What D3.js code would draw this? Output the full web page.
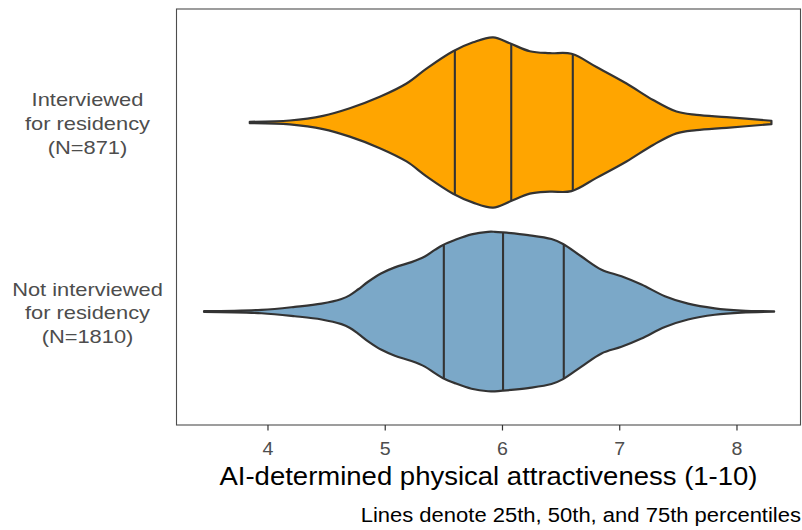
<!DOCTYPE html>
<html><head><meta charset="utf-8">
<script src="https://cdn.jsdelivr.net/npm/d3@7"></script>
<style>body{margin:0;background:#fff}svg{display:block;font-family:"Liberation Sans",Arial,sans-serif}</style>
</head><body><svg id="c" width="802" height="530"></svg>
<script>
const categories = ["Interviewed", "Not interviewed"];
const categoryLabels = [["Interviewed", "for residency", "(N=871)"], ["Not interviewed", "for residency", "(N=1810)"]];
const fills = ["#FFA500", "#7BA8C8"];

// violin outlines: attractiveness value and relative density (scale = "area")
const interviewedX = [3.849, 4.19, 4.474, 4.702, 4.958, 5.186, 5.356, 5.583, 5.754, 5.924, 6.067, 6.237, 6.408, 6.593, 6.806, 7.062, 7.289, 7.488, 7.659, 7.915, 8.298];
const interviewedDensity = [0.008, 0.023, 0.078, 0.167, 0.302, 0.458, 0.633, 0.837, 0.942, 1.0, 0.930, 0.837, 0.814, 0.807, 0.651, 0.458, 0.264, 0.128, 0.09, 0.063, 0.02];
const notInterviewedX = [3.459, 3.949, 4.233, 4.461, 4.631, 4.70, 4.775, 4.858, 4.972, 5.086, 5.228, 5.342, 5.427, 5.498, 5.598, 5.740, 5.881, 5.939, 6.009, 6.223, 6.422, 6.521, 6.678, 6.849, 7.019, 7.190, 7.389, 7.587, 7.815, 8.043, 8.321];
const notInterviewedDensity = [0.004, 0.02, 0.055, 0.093, 0.148, 0.19, 0.262, 0.35, 0.45, 0.519, 0.581, 0.647, 0.724, 0.783, 0.841, 0.907, 0.937, 0.937, 0.930, 0.899, 0.852, 0.794, 0.647, 0.492, 0.414, 0.317, 0.181, 0.093, 0.038, 0.012, 0.002];
const interviewedQuantiles = [5.598, 6.079, 6.604];
const notInterviewedQuantiles = [5.504, 6.009, 6.527];

const xTicks = [4, 5, 6, 7, 8];
const xTitle = "AI-determined physical attractiveness (1-10)";
const caption = "Lines denote 25th, 50th, and 75th percentiles";

const series = [
  {cat: categories[0], xs: interviewedX, ds: interviewedDensity, q: interviewedQuantiles, fill: fills[0], label: categoryLabels[0]},
  {cat: categories[1], xs: notInterviewedX, ds: notInterviewedDensity, q: notInterviewedQuantiles, fill: fills[1], label: categoryLabels[1]}
];

const svg = d3.select("#c");
const L = 176.5, R = 800.5, T = 9, B = 425;
const x = d3.scaleLinear().domain([3.224, 8.546]).range([L, R]);
const y = d3.scalePoint().domain(categories).range([T, B]).padding(0.6);
const w = d3.scaleLinear().domain([0, 1]).range([0, 0.45 * y.step()]);

function stretch(sel, sx) {
  sel.each(function () {
    const len = this.getComputedTextLength();
    this.setAttribute("textLength", len * sx);
    this.setAttribute("lengthAdjust", "spacingAndGlyphs");
  });
}

svg.append("rect").attr("x", L).attr("y", T).attr("width", R - L).attr("height", B - T).attr("fill", "#fff");

const defs = svg.append("defs");
series.forEach((s, i) => {
  const cy = y(s.cat);
  const pts = s.xs.map((v, j) => ({v, d: s.ds[j]}));
  const area = d3.area()
    .x(p => x(p.v))
    .y0(p => cy - w(p.d))
    .y1(p => cy + w(p.d))
    .curve(d3.curveCatmullRom.alpha(0.5));
  const dPath = area(pts);
  defs.append("clipPath").attr("id", "clip" + i).append("path").attr("d", dPath);
  svg.append("path").attr("d", dPath).attr("fill", s.fill).attr("stroke", "none");
  svg.append("g").attr("clip-path", `url(#clip${i})`)
    .selectAll("line").data(s.q).join("line")
    .attr("x1", q => x(q)).attr("x2", q => x(q))
    .attr("y1", cy - w(1.2)).attr("y2", cy + w(1.2))
    .attr("stroke", "#333333").attr("stroke-width", 2.1);
  svg.append("path").attr("d", dPath).attr("fill", "none")
    .attr("stroke", "#333333").attr("stroke-width", 2.2).attr("stroke-linejoin", "round");

  const t = svg.append("text").attr("text-anchor", "middle")
    .attr("font-size", 19).attr("fill", "#4D4D4D");
  s.label.forEach((line, k) => {
    t.append("tspan").attr("x", 87.5).attr("y", cy - 16 + k * 23.7).text(line);
  });
});
svg.selectAll("tspan").each(function () {
  const len = this.getComputedTextLength();
  this.setAttribute("textLength", len * 1.15);
  this.setAttribute("lengthAdjust", "spacingAndGlyphs");
});

svg.append("rect").attr("x", L).attr("y", T).attr("width", R - L).attr("height", B - T)
  .attr("fill", "none").attr("stroke", "#4d4d4d").attr("stroke-width", 1.1);

const ax = svg.append("g").attr("transform", `translate(0,${B})`)
  .call(d3.axisBottom(x).tickValues(xTicks).tickSize(5.5).tickFormat(d3.format("d")));
ax.select(".domain").remove();
ax.selectAll(".tick line").attr("stroke", "#333").attr("stroke-width", 1.2);
ax.selectAll(".tick text").attr("y", 30).attr("dy", null)
  .attr("font-size", 17.5).attr("fill", "#4D4D4D").attr("font-family", "Liberation Sans, Arial, sans-serif");
stretch(ax.selectAll(".tick text"), 1.12);

const tt = svg.append("text").attr("x", (L + R) / 2).attr("y", 485).attr("text-anchor", "middle")
  .attr("font-size", 25).attr("fill", "#000").text(xTitle);
stretch(tt, 1.10);

const cap = svg.append("text").attr("x", 801).attr("y", 522).attr("text-anchor", "end")
  .attr("font-size", 20).attr("fill", "#000").text(caption);
stretch(cap, 1.10);
</script></body></html>
